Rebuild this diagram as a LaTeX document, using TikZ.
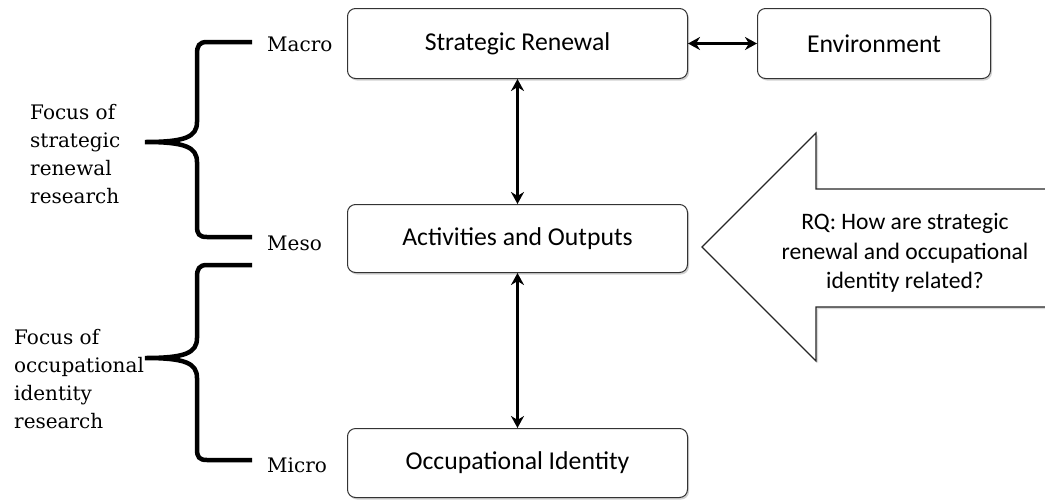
\documentclass[tikz,border=0pt]{standalone}
\usepackage{fontspec}
\setmainfont{DejaVu Serif}
\newfontfamily\boxfont{Carlito}
\usetikzlibrary{arrows.meta,shadows}
\begin{document}
\begin{tikzpicture}[x=1pt,y=-1pt,
  box/.style={draw=black!80, line width=1pt, rounded corners=8pt, fill=white,
    drop shadow={shadow xshift=1.5pt, shadow yshift=-2pt, opacity=0.18, fill=black},
    font=\boxfont\fontsize{25.7}{30}\selectfont, inner sep=0pt, anchor=north west},
  conn/.style={line width=3.5pt, {Stealth[length=12pt,width=13pt]}-{Stealth[length=12pt,width=13pt]}},
  brace/.style={line width=4.5pt, line cap=butt},
  lvl/.style={font=\fontsize{20}{24}\selectfont, anchor=west, inner sep=0pt},
  focus/.style={font=\fontsize{20}{28}\selectfont, align=left, anchor=west, inner sep=0pt},
  rq/.style={font=\boxfont\fontsize{23.6}{29.5}\selectfont, align=center, inner sep=0pt}
]
\useasboundingbox (0,0) rectangle (1045,499);
% boxes
\node[box, minimum width=340pt, minimum height=70pt] (sr) at (347,8) {Strategic Renewal};
\node[box, minimum width=233pt, minimum height=70pt] (env) at (757,8) {Environment};
\node[box, minimum width=340pt, minimum height=68pt] (ao) at (347,204) {Activities and Outputs};
\node[box, minimum width=340pt, minimum height=69pt] (oi) at (347,428) {Occupational Identity};
% connectors
\draw[conn] (sr.east) -- (env.west);
\draw[conn] (sr.south) -- (ao.north);
\draw[conn] (ao.south) -- (oi.north);
% big arrow
\begin{scope}
\clip (0,0) rectangle (1045,499);
\fill[black, opacity=0.15] (1052,191) -- (818,191) -- (818,135) -- (704,249) -- (818,363) -- (818,309) -- (1052,309) -- cycle;
\draw[black!85, line width=1.1pt, fill=white] (1050,189) -- (816,189) -- (816,133) -- (702,247) -- (816,361) -- (816,307) -- (1050,307);
\end{scope}
\node[rq] (rq) at (905,253) {RQ: How are strategic\\renewal and occupational\\identity related?};
% level labels
\node[lvl] (macro) at (267,44) {Macro};
\node[lvl] (meso) at (267,243) {Meso};
\node[lvl] (micro) at (267,465) {Micro};
% braces
\coordinate (b1t) at (252,42);
\coordinate (b1m) at (145,142);
\coordinate (b1b) at (252,237);
\draw[brace] (b1t) -- (207,42) .. controls (199,42) and (197,46) .. (197,54) -- (197,122)
  .. controls (197,137) and (185,142) .. (b1m)
  .. controls (185,142) and (197,147) .. (197,162) -- (197,226)
  .. controls (197,234) and (199,237) .. (207,237) -- (b1b);
\coordinate (b2t) at (252,265);
\coordinate (b2m) at (145,358);
\coordinate (b2b) at (252,460);
\draw[brace] (b2t) -- (207,265) .. controls (199,265) and (197,269) .. (197,277) -- (197,338)
  .. controls (197,353) and (185,358) .. (b2m)
  .. controls (185,358) and (197,363) .. (197,378) -- (197,449)
  .. controls (197,457) and (199,460) .. (207,460) -- (b2b);
% focus labels
\node[focus] (f1) at (30,154) {Focus of\\strategic\\renewal\\research};
\node[focus] (f2) at (14,379) {Focus of\\occupational\\identity\\research};
\end{tikzpicture}
\end{document}
